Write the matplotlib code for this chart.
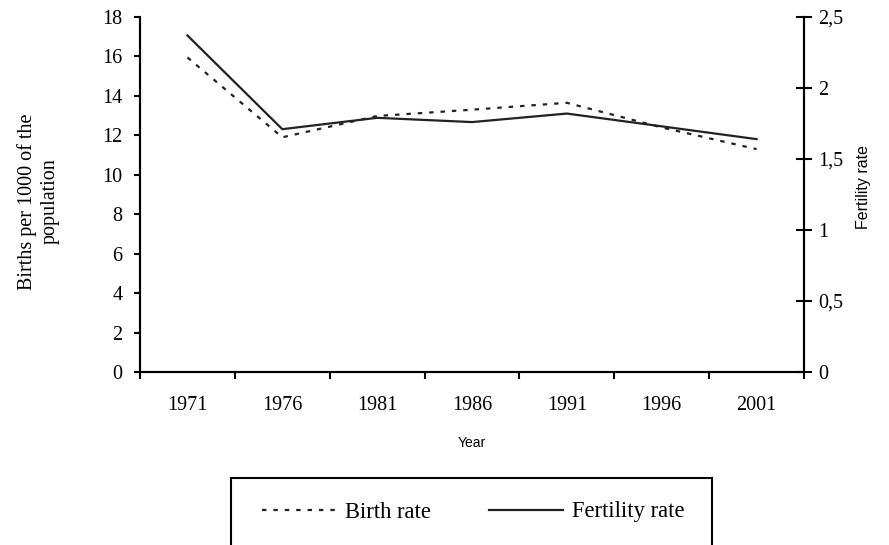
import matplotlib
matplotlib.use("Agg")
import matplotlib.pyplot as plt
from matplotlib.ticker import FuncFormatter
from matplotlib.patches import Rectangle

years = ["1971", "1976", "1981", "1986", "1991", "1996", "2001"]
birth_rate = [15.95, 11.9, 12.98, 13.3, 13.65, 12.4, 11.3]
fertility_rate = [2.37, 1.71, 1.79, 1.76, 1.82, 1.73, 1.64]
left_ticks = [0, 2, 4, 6, 8, 10, 12, 14, 16, 18]
right_ticks = [0, 0.5, 1, 1.5, 2, 2.5]

plt.rcParams['lines.scale_dashes'] = False
serif = ['Liberation Serif', 'DejaVu Serif']
sans = ['Liberation Sans', 'DejaVu Sans']
TICK_FS = 14.5

fig = plt.figure(figsize=(8.89, 5.45), dpi=100)
ax = fig.add_axes([140/889, 1-372/545, (804-140)/889, (372-17)/545])
ax2 = ax.twinx()

x = list(range(len(years)))
l1, = ax.plot(x, birth_rate, color='#222222', lw=1.6, dashes=(3.2, 5.0), label='Birth rate')
l2, = ax2.plot(x, fertility_rate, color='#222222', lw=1.6, label='Fertility rate')

ax.set_xlim(-0.5, len(years) - 0.5)
ax.set_ylim(0, 18)
ax2.set_ylim(0, 2.5)
ax.set_yticks(left_ticks)
ax2.set_yticks(right_ticks)
ax2.yaxis.set_major_formatter(FuncFormatter(lambda v, p: ('%g' % v).replace('.', ',')))

ax.set_xticks([i - 0.5 for i in range(len(years) + 1)])
ax.set_xticklabels([])
ax.set_xticks(x, minor=True)
ax.set_xticklabels(years, minor=True, fontfamily=serif, fontsize=TICK_FS)
ax.tick_params(axis='x', which='minor', length=0, pad=17)
ax.tick_params(axis='x', which='major', direction='out', length=5, width=1.5)
ax.tick_params(axis='y', direction='out', length=4.5, width=1.5, pad=8)
for lab in ax.get_yticklabels():
    lab.set_fontfamily(serif)
    lab.set_fontsize(TICK_FS)
ax2.tick_params(axis='y', direction='inout', length=11, width=1.5, pad=5)
for lab in ax2.get_yticklabels():
    lab.set_fontfamily(serif)
    lab.set_fontsize(TICK_FS)

for a in (ax, ax2):
    a.spines['top'].set_visible(False)
    for s in ('left', 'right', 'bottom'):
        a.spines[s].set_linewidth(1.5)

ax.set_ylabel("Births per 1000 of the\npopulation", fontfamily=serif, fontsize=14.5,
              linespacing=1.25)
ax.yaxis.set_label_coords((60-140)/664, 0.48)
ax2.set_ylabel("Fertility rate", fontfamily=sans, fontsize=11.5)
ax2.yaxis.set_label_coords((856-140)/664, 0.52)
ax.set_xlabel("Year", fontfamily=sans, fontsize=10)
ax.xaxis.set_label_coords(0.5, (372-436)/355)

fig.patches.append(Rectangle((231/889, -0.1), (712-231)/889, 0.1 + (545-478)/545,
                             transform=fig.transFigure, fill=False, edgecolor='black',
                             lw=1.5, clip_on=False))
leg = fig.legend([l1, l2], ['Birth rate', 'Fertility rate'], loc='center',
                 bbox_to_anchor=(473.5/889, 1-512/545), ncol=2, frameon=False,
                 handlelength=3.25, handletextpad=0.42, columnspacing=2.55,
                 prop={'family': serif, 'size': 16.3})

fig.savefig("out.png", dpi=100)
